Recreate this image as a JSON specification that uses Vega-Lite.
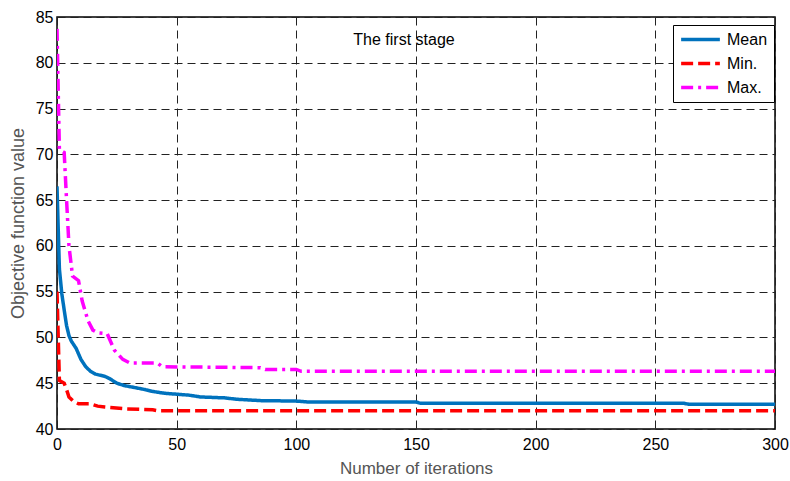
{
  "$schema": "https://vega.github.io/schema/vega-lite/v6.json",
  "autosize": {"type": "none"},
  "width": 718,
  "height": 412,
  "padding": {"left": 57, "top": 17, "right": 15, "bottom": 52},
  "background": "white",
  "config": {
    "view": {"stroke": "black", "strokeWidth": 1.5},
    "font": "Liberation Sans",
    "axis": {
      "grid": true,
      "gridColor": "#222",
      "gridDash": [8, 5],
      "gridWidth": 1,
      "gridOpacity": 1,
      "domain": false,
      "ticks": false,
      "labelFont": "Liberation Sans",
      "labelFontSize": 16,
      "labelColor": "black",
      "titleFont": "Liberation Sans",
      "titleFontSize": 17,
      "titleFontWeight": "normal",
      "titleColor": "#555"
    },
    "legend": {
      "orient": "none",
      "legendX": 616,
      "legendY": 8,
      "strokeColor": "black",
      "fillColor": "white",
      "padding": 6,
      "symbolType": "stroke",
      "symbolSize": 1500,
      "symbolStrokeWidth": 3.5,
      "clipHeight": 17,
      "labelFont": "Liberation Sans",
      "labelFontSize": 16,
      "labelOffset": 5,
      "labelColor": "black",
      "rowPadding": 7,
      "title": null
    }
  },
  "layer": [
    {
      "data": {
        "values": [
          {"iter": 0, "value": 66.5, "series": "Mean"},
          {"iter": 1, "value": 57.5, "series": "Mean"},
          {"iter": 2, "value": 54.8, "series": "Mean"},
          {"iter": 3, "value": 53, "series": "Mean"},
          {"iter": 4, "value": 51.3, "series": "Mean"},
          {"iter": 5, "value": 50.2, "series": "Mean"},
          {"iter": 6, "value": 49.6, "series": "Mean"},
          {"iter": 8, "value": 48.8, "series": "Mean"},
          {"iter": 10, "value": 47.6, "series": "Mean"},
          {"iter": 12, "value": 46.8, "series": "Mean"},
          {"iter": 14, "value": 46.3, "series": "Mean"},
          {"iter": 16, "value": 46, "series": "Mean"},
          {"iter": 20, "value": 45.75, "series": "Mean"},
          {"iter": 22, "value": 45.5, "series": "Mean"},
          {"iter": 25, "value": 45, "series": "Mean"},
          {"iter": 28, "value": 44.75, "series": "Mean"},
          {"iter": 32, "value": 44.55, "series": "Mean"},
          {"iter": 36, "value": 44.35, "series": "Mean"},
          {"iter": 40, "value": 44.1, "series": "Mean"},
          {"iter": 45, "value": 43.9, "series": "Mean"},
          {"iter": 50, "value": 43.8, "series": "Mean"},
          {"iter": 55, "value": 43.7, "series": "Mean"},
          {"iter": 60, "value": 43.5, "series": "Mean"},
          {"iter": 70, "value": 43.4, "series": "Mean"},
          {"iter": 75, "value": 43.25, "series": "Mean"},
          {"iter": 85, "value": 43.1, "series": "Mean"},
          {"iter": 100, "value": 43.05, "series": "Mean"},
          {"iter": 105, "value": 42.95, "series": "Mean"},
          {"iter": 150, "value": 42.95, "series": "Mean"},
          {"iter": 152, "value": 42.8, "series": "Mean"},
          {"iter": 262, "value": 42.8, "series": "Mean"},
          {"iter": 264, "value": 42.7, "series": "Mean"},
          {"iter": 300, "value": 42.7, "series": "Mean"},
          {"iter": 0, "value": 55, "series": "Min."},
          {"iter": 1, "value": 45.3, "series": "Min."},
          {"iter": 3, "value": 45, "series": "Min."},
          {"iter": 4, "value": 44.3, "series": "Min."},
          {"iter": 5, "value": 43.5, "series": "Min."},
          {"iter": 7, "value": 43, "series": "Min."},
          {"iter": 9, "value": 42.75, "series": "Min."},
          {"iter": 14, "value": 42.75, "series": "Min."},
          {"iter": 17, "value": 42.5, "series": "Min."},
          {"iter": 20, "value": 42.4, "series": "Min."},
          {"iter": 29, "value": 42.2, "series": "Min."},
          {"iter": 40, "value": 42.1, "series": "Min."},
          {"iter": 42, "value": 42.0, "series": "Min."},
          {"iter": 300, "value": 42.0, "series": "Min."},
          {"iter": 0, "value": 83.7, "series": "Max."},
          {"iter": 1, "value": 70.5, "series": "Max."},
          {"iter": 3, "value": 70.2, "series": "Max."},
          {"iter": 4, "value": 65, "series": "Max."},
          {"iter": 5, "value": 60, "series": "Max."},
          {"iter": 6.5, "value": 56.7, "series": "Max."},
          {"iter": 9, "value": 56.2, "series": "Max."},
          {"iter": 10.5, "value": 54, "series": "Max."},
          {"iter": 13, "value": 51.8, "series": "Max."},
          {"iter": 15, "value": 50.8, "series": "Max."},
          {"iter": 17, "value": 50.5, "series": "Max."},
          {"iter": 21, "value": 50.4, "series": "Max."},
          {"iter": 24, "value": 48.6, "series": "Max."},
          {"iter": 27.5, "value": 47.6, "series": "Max."},
          {"iter": 30.5, "value": 47.2, "series": "Max."},
          {"iter": 42, "value": 47.2, "series": "Max."},
          {"iter": 44, "value": 46.8, "series": "Max."},
          {"iter": 85, "value": 46.7, "series": "Max."},
          {"iter": 87, "value": 46.5, "series": "Max."},
          {"iter": 100, "value": 46.5, "series": "Max."},
          {"iter": 102, "value": 46.3, "series": "Max."},
          {"iter": 300, "value": 46.3, "series": "Max."}
        ]
      },
      "mark": {"type": "line", "strokeWidth": 3.5, "clip": true},
      "encoding": {
        "x": {
          "field": "iter", "type": "quantitative",
          "scale": {"domain": [0, 300], "nice": false, "zero": false},
          "axis": {"title": "Number of iterations", "values": [0, 50, 100, 150, 200, 250, 300], "labelPadding": 7, "titlePadding": 8, "labelFlush": false}
        },
        "y": {
          "field": "value", "type": "quantitative",
          "scale": {"domain": [40, 85], "nice": false, "zero": false},
          "axis": {"title": "Objective function value", "values": [40, 45, 50, 55, 60, 65, 70, 75, 80, 85], "labelPadding": 4, "titlePadding": 8, "titleFontSize": 18}
        },
        "color": {
          "field": "series", "type": "nominal",
          "scale": {"domain": ["Mean", "Min.", "Max."], "range": ["#0072BD", "#FF0000", "#FF00FF"]},
          "legend": {"title": null}
        },
        "strokeDash": {
          "field": "series", "type": "nominal",
          "scale": {"domain": ["Mean", "Min.", "Max."], "range": [[1, 0], [12, 5], [12, 5, 3, 5]]},
          "legend": {"title": null}
        },
        "order": {"field": "iter", "type": "quantitative"}
      }
    },
    {
      "data": {"values": [{"iter": 145, "value": 82.5, "label": "The first stage"}]},
      "mark": {"type": "text", "fontSize": 16, "font": "Liberation Sans", "color": "black", "align": "center", "baseline": "middle"},
      "encoding": {
        "x": {"field": "iter", "type": "quantitative"},
        "y": {"field": "value", "type": "quantitative"},
        "text": {"field": "label"}
      }
    }
  ]
}
